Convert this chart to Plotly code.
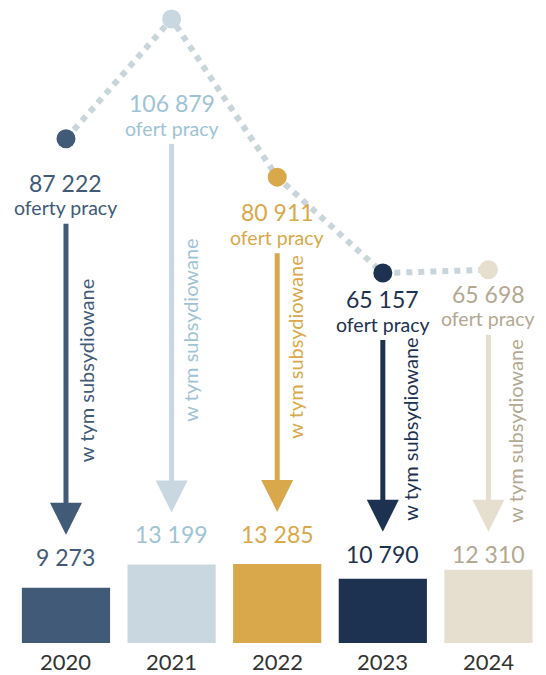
import plotly.graph_objects as go

# data
YEARS = ["2020", "2021", "2022", "2023", "2024"]
OFFERS = [87222, 106879, 80911, 65157, 65698]
SUBSIDISED = [9273, 13199, 13285, 10790, 12310]
OFFER_WORDS = ["oferty pracy", "ofert pracy", "ofert pracy", "ofert pracy", "ofert pracy"]
ARROW_TEXT = "w tym subsydiowane"

# style
FONT = "Lato, 'Open Sans', sans-serif"
FILL = ["#415a78", "#c9d8e0", "#d9a84a", "#1d3250", "#e6dfd0"]
INK = ["#415a78", "#9fc3d6", "#d9a84a", "#1d3250", "#b3a891"]
LINE = "#c8d5da"
YEAR_INK = "#333333"

# the page body has an 8px margin, so the figure is a bit smaller than the window
W, H = 538, 667
BAR_RANGE = [-5376, 106680]
DOT_RANGE = [-843, 108685]
X_RANGE = [-0.549, 4.545]

# manual label placement (px)
OFFER_DY = [44, 84, 35, 26, 24]       # number centre below dot
BAR_DY = [31, 30, 30, 25, 16]         # value centre above bar top
TEXT_DX = [20, 19, 17, 27, 27]
TEXT_DY = [-9, 2, -35, -7, -2]
HEAD = 32


def fmt(v):
    return f"{v:,}".replace(",", " ")


def px(v, rng):
    # value -> pixel from top of the figure (plot fills the figure)
    return H * (1 - (v - rng[0]) / (rng[1] - rng[0]))


def paper(p):
    return 1 - p / H


xs = list(range(len(YEARS)))

fig = go.Figure()

fig.add_trace(go.Bar(
    x=xs, y=SUBSIDISED, width=0.835,
    marker=dict(color=FILL, line=dict(width=0)),
    yaxis="y", hoverinfo="skip",
))

fig.add_trace(go.Scatter(
    x=xs, y=OFFERS, yaxis="y2", mode="lines",
    line=dict(color=LINE, width=6, dash="dot"),
    hoverinfo="skip",
))
fig.add_trace(go.Scatter(
    x=xs, y=OFFERS, yaxis="y2", mode="markers",
    marker=dict(color=FILL, size=19, line=dict(width=0)),
    hoverinfo="skip",
))

for i, year in enumerate(YEARS):
    # offers labels
    fig.add_annotation(x=i, y=OFFERS[i], xref="x", yref="y2", yshift=-OFFER_DY[i],
                       text=fmt(OFFERS[i]), showarrow=False,
                       font=dict(family=FONT, size=23, color=INK[i]))
    fig.add_annotation(x=i, y=OFFERS[i], xref="x", yref="y2", yshift=-OFFER_DY[i] - 25,
                       text=OFFER_WORDS[i], showarrow=False,
                       font=dict(family=FONT, size=19.5, color=INK[i]))
    # subsidised value labels
    fig.add_annotation(x=i, y=SUBSIDISED[i], xref="x", yref="y", yshift=BAR_DY[i],
                       text=fmt(SUBSIDISED[i]), showarrow=False,
                       font=dict(family=FONT, size=23, color=INK[i]))
    # year labels
    fig.add_annotation(x=i, y=0, xref="x", yref="y", yshift=-18,
                       text=year, showarrow=False, borderpad=0,
                       font=dict(family=FONT, size=22, color=YEAR_INK))

    # arrow from offers label down to subsidised label
    start = px(OFFERS[i], DOT_RANGE) + OFFER_DY[i] + 41
    tip = px(SUBSIDISED[i], BAR_RANGE) - BAR_DY[i] - 22
    fig.add_shape(type="line", xref="x", yref="paper",
                  x0=i, x1=i, y0=paper(start), y1=paper(tip - HEAD + 2),
                  line=dict(color=FILL[i], width=5))
    fig.add_shape(type="path", xref="x", yref="paper",
                  xsizemode="pixel", ysizemode="pixel",
                  xanchor=i, yanchor=paper(tip),
                  path=f"M {-HEAD / 2} {HEAD} L {HEAD / 2} {HEAD} L 0 0 Z",
                  fillcolor=FILL[i], line=dict(width=0))
    fig.add_annotation(x=i, xref="x", xshift=TEXT_DX[i],
                       y=paper((start + tip) / 2 + TEXT_DY[i]), yref="paper",
                       text=ARROW_TEXT, textangle=-90, showarrow=False,
                       font=dict(family=FONT, size=20, color=INK[i]))

fig.update_layout(
    width=W, height=H,
    margin=dict(l=0, r=0, t=0, b=0),
    paper_bgcolor="white", plot_bgcolor="white",
    showlegend=False,
    xaxis=dict(range=X_RANGE, visible=False, fixedrange=True),
    yaxis=dict(range=BAR_RANGE, visible=False, fixedrange=True),
    yaxis2=dict(range=DOT_RANGE, overlaying="y", visible=False, fixedrange=True),
)

fig.write_html("out.html", config=dict(displayModeBar=False))
